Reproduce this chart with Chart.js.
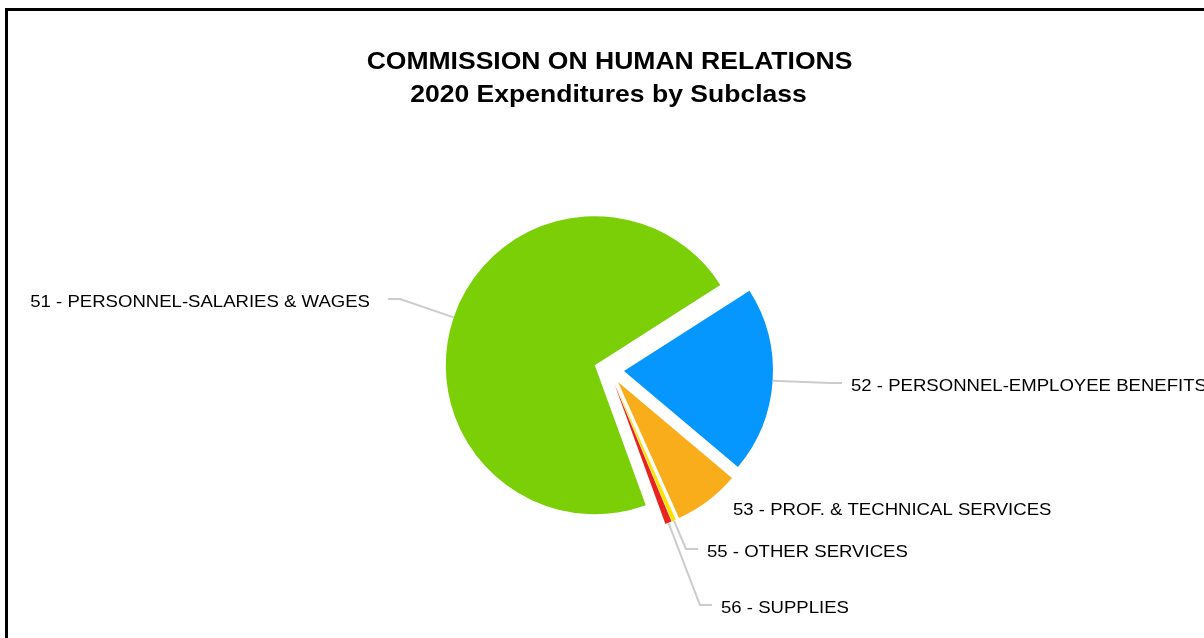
<!DOCTYPE html>
<html>
<head>
<meta charset="utf-8">
<title>2020 Expenditures by Subclass</title>
<script src="https://cdn.jsdelivr.net/npm/chart.js@4"></script>
<style>
  html, body { margin: 0; padding: 0; background: #fff; overflow: hidden; }
  canvas { display: block; }
</style>
</head>
<body>
<canvas id="pie" width="1204" height="638"></canvas>
<script>
const subclasses = [
  "51 - PERSONNEL-SALARIES & WAGES",
  "52 - PERSONNEL-EMPLOYEE BENEFITS",
  "53 - PROF. & TECHNICAL SERVICES",
  "55 - OTHER SERVICES",
  "56 - SUPPLIES",
];
const sharePct = [71.5, 20.2, 7.15, 0.45, 0.7];
const sliceColors = ["#7acf07", "#0597fe", "#faad1b", "#ffe100", "#e8231e"];
const titleLines = ["COMMISSION ON HUMAN RELATIONS", "2020 Expenditures by Subclass"];

// where each outside label sits: leader elbow x, leader y, which side the text goes
const labelSpots = [
  { elbowX: 400, y: 299, side: -1, gap: 18, line: true },
  { elbowX: 830, y: 383, side: 1, gap: 9, line: true },
  { elbowX: 712, y: 507, side: 1, gap: 9, line: false },
  { elbowX: 686, y: 549, side: 1, gap: 9, line: true },
  { elbowX: 700, y: 605, side: 1, gap: 9, line: true },
];

const PIE_RADIUS = 149;
const SHIFT = 15;          // how far every slice is pulled out from the centre
const FONT = "Arial, 'Liberation Sans', sans-serif";
const TEXT_STRETCH = 1.092;

function wideText(ctx, text, x, y, align, stretch) {
  ctx.save();
  ctx.translate(x, y);
  ctx.scale(stretch, 1);
  ctx.textAlign = align;
  ctx.fillText(text, 0, 0);
  ctx.restore();
}

// pull every slice out along its own middle angle
const explode = {
  id: "explode",
  afterDatasetUpdate(chart, args) {
    const meta = chart.getDatasetMeta(args.index);
    meta.data.forEach((arc) => {
      const mid = (arc.startAngle + arc.endAngle) / 2;
      arc.x += Math.cos(mid) * SHIFT;
      arc.y += Math.sin(mid) * SHIFT;
    });
  },
};

const frame = {
  id: "frame",
  beforeDraw(chart) {
    const ctx = chart.ctx;
    ctx.save();
    ctx.fillStyle = "#fff";
    ctx.fillRect(0, 0, chart.width, chart.height);
    ctx.strokeStyle = "#000";
    ctx.lineWidth = 3;
    ctx.strokeRect(6.5, 9.5, chart.width + 20, chart.height + 20);
    ctx.fillStyle = "#000";
    ctx.textBaseline = "alphabetic";
    ctx.font = "bold 24px " + FONT;
    wideText(ctx, titleLines[0], 609.5, 69, "center", 1.105);
    wideText(ctx, titleLines[1], 608.5, 102, "center", 1.105);
    ctx.restore();
  },
};

const outsideLabels = {
  id: "outsideLabels",
  afterDatasetsDraw(chart) {
    const ctx = chart.ctx;
    const arcs = chart.getDatasetMeta(0).data;
    ctx.save();
    ctx.font = "17px " + FONT;
    ctx.textBaseline = "alphabetic";
    arcs.forEach((arc, i) => {
      const spot = labelSpots[i];
      const mid = (arc.startAngle + arc.endAngle) / 2;
      const ax = arc.x + Math.cos(mid) * arc.outerRadius;
      const ay = arc.y + Math.sin(mid) * arc.outerRadius;
      const endX = spot.elbowX + spot.side * 12;
      if (spot.line) {
        ctx.strokeStyle = "#cccccc";
        ctx.lineWidth = 2;
        ctx.beginPath();
        ctx.moveTo(ax, ay);
        ctx.lineTo(spot.elbowX, spot.y);
        ctx.lineTo(endX, spot.y);
        ctx.stroke();
      }
      ctx.fillStyle = "#000";
      const tx = endX + spot.side * spot.gap;
      wideText(ctx, subclasses[i], tx, spot.y + 7.5, spot.side < 0 ? "right" : "left", TEXT_STRETCH);
    });
    ctx.restore();
  },
};

new Chart(document.getElementById("pie"), {
  type: "pie",
  data: {
    labels: subclasses,
    datasets: [
      {
        data: sharePct,
        backgroundColor: sliceColors,
        borderWidth: 0,
      },
    ],
  },
  options: {
    responsive: false,
    devicePixelRatio: 1,
    animation: false,
    events: [],
    radius: PIE_RADIUS,
    rotation: 160,
    layout: { padding: { left: 14, right: 0, top: 102, bottom: 0 } },
    plugins: {
      legend: { display: false },
      tooltip: { enabled: false },
      title: { display: false },
    },
  },
  plugins: [explode, frame, outsideLabels],
});
</script>
</body>
</html>
